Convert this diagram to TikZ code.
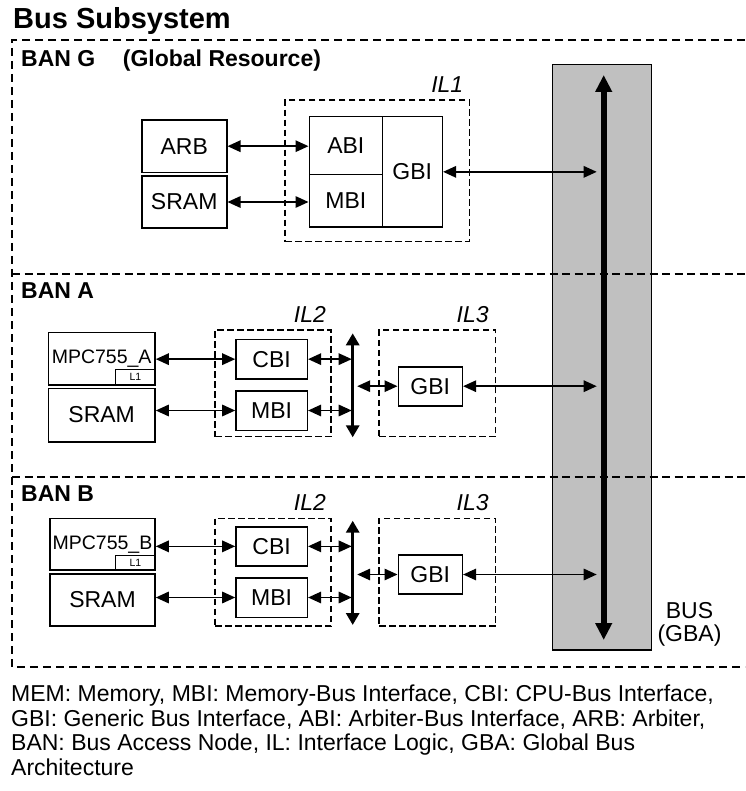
\documentclass[tikz,border=0pt]{standalone}
\usepackage{fontspec}
\setmainfont{Liberation Sans}
\usetikzlibrary{arrows.meta,calc}
\begin{document}
\begin{tikzpicture}[x=1pt,y=-1pt,
  blk/.style={draw=black, line width=1.6pt, inner sep=0pt, font=\fontsize{23}{27}\selectfont},
  cpu/.style={blk, font=\fontsize{19.5}{23}\selectfont},
  cache/.style={blk, line width=1.2pt, font=\fontsize{10.5}{12}\selectfont},
  ilbox/.style={draw=black, line width=1.3pt, dash pattern=on 6.5pt off 3.5pt, inner sep=0pt},
  illabel/.style={inner sep=0pt, anchor=base east, font=\fontsize{23}{27}\selectfont\itshape},
  banlabel/.style={inner sep=0pt, anchor=base west, font=\fontsize{23}{27}\selectfont\bfseries},
  frame/.style={line width=1.8pt, dash pattern=on 8pt off 5pt},
  sep/.style={line width=1.3pt, dash pattern=on 8pt off 4.5pt},
  conn/.style={line width=1.5pt, >={Triangle[length=13pt,width=11.5pt]}, <->},
  localbus/.style={line width=3.3pt, >={Triangle[length=12pt,width=13pt]}, <->},
  mainbus/.style={line width=6pt, >={Triangle[length=17pt,width=16pt]}, <->},
  note/.style={inner sep=0pt, anchor=base west, font=\fontsize{23}{27}\selectfont}]
\useasboundingbox (0,0) rectangle (745,791);

% title and outer frame
\node[inner sep=0pt, anchor=base west, font=\fontsize{29}{34}\selectfont\bfseries] (title) at (13,29) {Bus Subsystem};
\draw[frame] (745,40) -- (12,40) -- (12,667) -- (745,667);

% global bus
\node[draw=black, line width=1.5pt, fill={rgb,255:red,192;green,192;blue,192}, minimum width=99pt, minimum height=585.7pt, inner sep=0pt] (bus) at (602.2,357.15) {};
\coordinate (bustop) at (603.7,75);
\coordinate (busbot) at (603.7,640);

% partition lines between the bus access nodes
\draw[sep] (12,274) -- (745,274);
\draw[sep] (12,477) -- (745,477);

\node[banlabel] (bang) at (21,66.7) {BAN G};
\node[banlabel] (bangres) at (122.7,66.7) {(Global Resource)};
\node[banlabel] (bana) at (21,298) {BAN A};
\node[banlabel] (banb) at (21,501.7) {BAN B};

% ---- BAN G ----
\node[blk, minimum width=85pt, minimum height=52.3pt] (arb) at (184.2,146.2) {ARB};
\node[blk, minimum width=85pt, minimum height=52pt] (sramg) at (184.2,202) {SRAM};
\node[ilbox, minimum width=184.3pt, minimum height=141.7pt] (il1) at (377.15,170.85) {};
\node[illabel] (il1lab) at ($(il1.north east)+(-6.5,-7.3)$) {IL1};
\node[blk, minimum width=73pt, minimum height=58pt] (abi) at (345.8,145.7) {ABI};
\node[blk, minimum width=73pt, minimum height=52.3pt] (mbig) at (345.8,200.85) {MBI};
\node[blk, minimum width=60pt, minimum height=110.3pt] (gbig) at (412.3,171.85) {GBI};
\draw[conn] (arb.east) -- (arb.east -| abi.west);
\draw[conn] (sramg.east) -- (sramg.east -| mbig.west);
\draw[conn, shorten >=7pt] (gbig.east) -- (gbig.east -| bustop);

% ---- BAN A ----
\node[cpu, minimum width=106.7pt, minimum height=52.7pt] (mpca) at (101.65,358.65) {\raisebox{2pt}{MPC755\_A}};
\node[cache, minimum width=39.3pt, minimum height=15.7pt] (l1a) at (135.35,377.15) {L1};
\node[blk, minimum width=106.7pt, minimum height=53.4pt] (srama) at (101.65,415) {SRAM};
\node[ilbox, minimum width=116pt, minimum height=106.7pt] (il2a) at (273,383.35) {};
\node[illabel] (il2alab) at ($(il2a.north east)+(-5.5,-7.3)$) {IL2};
\node[blk, minimum width=71.3pt, minimum height=39.7pt] (cbia) at (271.65,359.15) {CBI};
\node[blk, minimum width=71.3pt, minimum height=39.6pt] (mbia) at (271.65,410.5) {MBI};
\node[ilbox, minimum width=116.7pt, minimum height=106.7pt] (il3a) at (437.35,383.35) {};
\node[illabel] (il3alab) at ($(il3a.north east)+(-7.5,-7.3)$) {IL3};
\node[blk, minimum width=64pt, minimum height=39pt] (gbia) at (430.3,386.2) {GBI};
\coordinate (vta) at (352.7,333.3);
\coordinate (vba) at (352.7,437.3);
\draw[localbus] (vta) -- (vba);
\draw[conn] (cbia.west -| mpca.east) -- (cbia.west);
\draw[conn] (mbia.west -| srama.east) -- (mbia.west);
\draw[conn, shorten >=1pt] (cbia.east) -- (cbia.east -| vta);
\draw[conn, shorten >=1pt] (mbia.east) -- (mbia.east -| vta);
\draw[conn, shorten >=4.5pt] (gbia.west) -- (gbia.west -| vta);
\draw[conn, shorten >=7pt] (gbia.east) -- (gbia.east -| bustop);

% ---- BAN B ----
\node[cpu, minimum width=105pt, minimum height=51.7pt] (mpcb) at (102.5,544.15) {\raisebox{2pt}{MPC755\_B}};
\node[cache, minimum width=39.3pt, minimum height=14.3pt] (l1b) at (135.35,562.85) {L1};
\node[blk, minimum width=105pt, minimum height=52pt] (sramb) at (102.5,600) {SRAM};
\node[ilbox, minimum width=116pt, minimum height=107.7pt] (il2b) at (273,572.15) {};
\node[illabel] (il2blab) at ($(il2b.north east)+(-5.5,-6.8)$) {IL2};
\node[blk, minimum width=71.3pt, minimum height=39.3pt] (cbib) at (271.65,546.35) {CBI};
\node[blk, minimum width=71.3pt, minimum height=39.6pt] (mbib) at (271.65,597.5) {MBI};
\node[ilbox, minimum width=116.7pt, minimum height=107.7pt] (il3b) at (437.35,572.15) {};
\node[illabel] (il3blab) at ($(il3b.north east)+(-7.5,-6.8)$) {IL3};
\node[blk, minimum width=64pt, minimum height=39pt] (gbib) at (430.3,574.5) {GBI};
\coordinate (vtb) at (352.7,520.7);
\coordinate (vbb) at (352.7,625);
\draw[localbus] (vtb) -- (vbb);
\draw[conn] (cbib.west -| mpcb.east) -- (cbib.west);
\draw[conn] (mbib.west -| sramb.east) -- (mbib.west);
\draw[conn, shorten >=1pt] (cbib.east) -- (cbib.east -| vtb);
\draw[conn, shorten >=1pt] (mbib.east) -- (mbib.east -| vtb);
\draw[conn, shorten >=4.5pt] (gbib.west) -- (gbib.west -| vtb);
\draw[conn, shorten >=7pt] (gbib.east) -- (gbib.east -| bustop);

% main bus line over the shaded channel
\draw[mainbus] (bustop) -- (busbot);
\node[inner sep=0pt, anchor=base, font=\fontsize{23}{27}\selectfont] (buslab) at (689.5,618) {BUS};
\node[inner sep=0pt, anchor=base, font=\fontsize{23}{27}\selectfont] (gbalab) at (689.5,641) {(GBA)};

% legend
\node[note] (cap1) at (11,701.7) {MEM: Memory, MBI: Memory-Bus Interface, CBI: CPU-Bus Interface,};
\node[note] (cap2) at (11,726.3) {GBI: Generic Bus Interface, ABI: Arbiter-Bus Interface, ARB: Arbiter,};
\node[note] (cap3) at (11,750.9) {BAN: Bus Access Node, IL: Interface Logic, GBA: Global Bus};
\node[note] (cap4) at (11,775.5) {Architecture};
\end{tikzpicture}
\end{document}
